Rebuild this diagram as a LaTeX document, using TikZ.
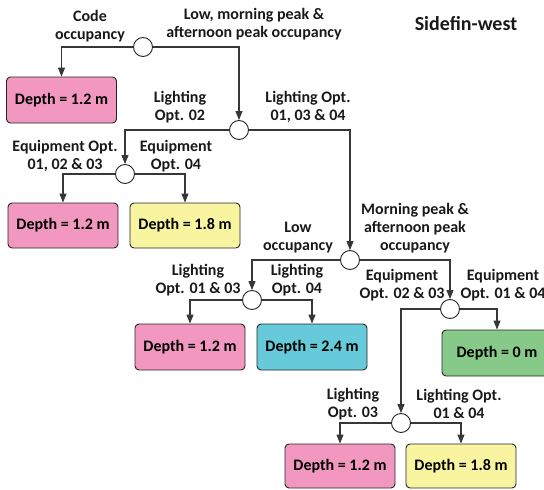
\documentclass[tikz,border=0pt]{standalone}
\usepackage{fontspec}
\setmainfont{Carlito}
\usetikzlibrary{arrows.meta}
\definecolor{cpink}{RGB}{242,152,192}
\definecolor{cyellow}{RGB}{248,244,160}
\definecolor{ccyan}{RGB}{102,202,218}
\definecolor{cgreen}{RGB}{134,201,136}
\definecolor{cline}{RGB}{55,55,55}
\tikzset{
  lbl/.style={align=center, inner sep=0pt, font=\bfseries\fontsize{16}{18}\selectfont, text=black!90},
  depthbox/.style={draw=black!85, line width=0.9pt, rounded corners=4pt, minimum width=110pt, minimum height=45pt, inner sep=0pt, font=\bfseries\fontsize{16}{18}\selectfont},
  junc/.style={circle, draw=black!85, fill=white, line width=0.9pt, minimum size=19pt, inner sep=0pt},
  conn/.style={draw=cline, line width=1.1pt, -{Triangle[length=9pt, width=7pt]}},
}
\begin{document}
\begin{tikzpicture}[x=1pt, y=-1pt]
\useasboundingbox (0,0) rectangle (544,490);
% junctions
\node[junc] (c1) at (143,47) {};
\node[junc] (c2) at (239,130) {};
\node[junc] (c3) at (125,174) {};
\node[junc] (c4) at (350,260) {};
\node[junc] (c5) at (252,300) {};
\node[junc] (c6) at (450,309) {};
\node[junc] (c7) at (401,423) {};
% boxes
\node[depthbox, fill=cpink, minimum height=46pt] (b1) at (61.5,100) {Depth = 1.2 m};
\node[depthbox, fill=cpink] (b2) at (63,225.5) {Depth = 1.2 m};
\node[depthbox, fill=cyellow] (b3) at (185,225.5) {Depth = 1.8 m};
\node[depthbox, fill=cpink, minimum height=46pt] (b4) at (190,347) {Depth = 1.2 m};
\node[depthbox, fill=ccyan, minimum height=46pt] (b5) at (312,347) {Depth = 2.4 m};
\node[depthbox, fill=cgreen, minimum height=46pt] (b6) at (497,353) {Depth = 0 m};
\node[depthbox, fill=cpink, minimum height=44pt] (b7) at (340,466) {Depth = 1.2 m};
\node[depthbox, fill=cyellow, minimum height=44pt] (b8) at (461,466) {Depth = 1.8 m};
% connectors
\draw[conn] (c1.west) -| (b1.north);
\draw[conn] (c1.east) -| (c2.north);
\draw[conn] (c2.west) -| (c3.north);
\draw[conn] (c2.east) -| (c4.north);
\draw[conn] (c3.west) -| (b2.north);
\draw[conn] (c3.east) -| (b3.north);
\draw[conn] (c4.west) -| (c5.north);
\draw[conn] (c4.east) -| (c6.north);
\draw[conn] (c5.west) -| (b4.north);
\draw[conn] (c5.east) -| (b5.north);
\draw[conn] (c6.east) -| (b6.north);
\draw[conn] (c6.west) -| (c7.north);
\draw[conn] (c7.west) -| (b7.north);
\draw[conn] (c7.east) -| (b8.north);
% labels
\node[lbl] (l1) at (90,26) {Code\\occupancy};
\node[lbl] (l2) at (254,24) {Low, morning peak \&\\afternoon peak occupancy};
\node[lbl, font=\bfseries\fontsize{20}{22}\selectfont] (title) at (466,24) {Sidefin-west};
\node[lbl] (l3) at (180,107) {Lighting\\Opt. 02};
\node[lbl] (l4) at (308,107) {Lighting Opt.\\01, 03 \& 04};
\node[lbl] (l5) at (65,156) {Equipment Opt.\\01, 02 \& 03};
\node[lbl] (l6) at (176,156) {Equipment\\Opt. 04};
\node[lbl] (l7) at (298,238) {Low\\occupancy};
\node[lbl] (l8) at (415,228) {Morning peak \&\\afternoon peak\\occupancy};
\node[lbl] (l9) at (198,280) {Lighting\\Opt. 01 \& 03};
\node[lbl] (l10) at (297,280) {Lighting\\Opt. 04};
\node[lbl] (l11) at (402,285) {Equipment\\Opt. 02 \& 03};
\node[lbl] (l12) at (503,285) {Equipment\\Opt. 01 \& 04};
\node[lbl] (l13) at (353,404) {Lighting\\Opt. 03};
\node[lbl] (l14) at (459,404) {Lighting Opt.\\01 \& 04};
\end{tikzpicture}
\end{document}
